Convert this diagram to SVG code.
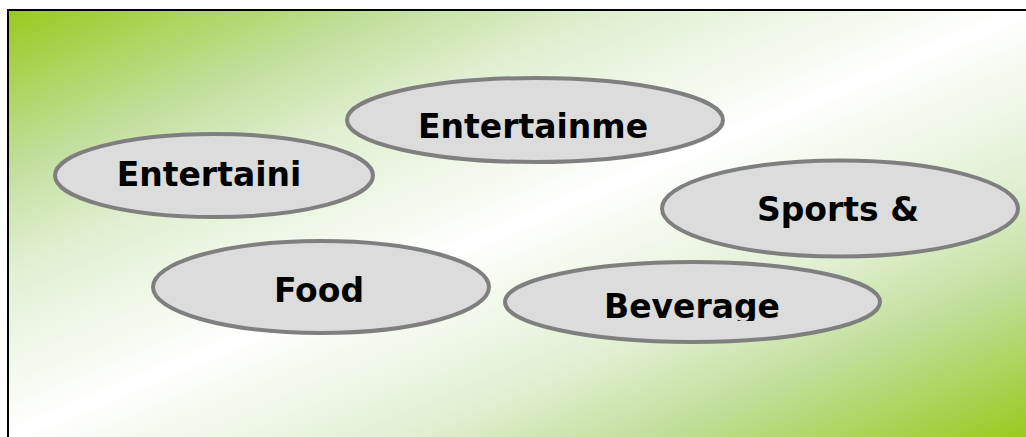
<svg xmlns="http://www.w3.org/2000/svg" width="1026" height="437" viewBox="0 0 1026 437">
  <defs>
    <!-- lime-to-white-to-lime diagonal background -->
    <linearGradient id="bgGrad" x1="0" y1="0" x2="1" y2="1">
      <stop offset="0" stop-color="#99CA1F"/>
      <stop offset="0.18" stop-color="#C0DE98"/>
      <stop offset="0.3" stop-color="#E0EFD0"/>
      <stop offset="0.5" stop-color="#FFFFFF"/>
      <stop offset="0.7" stop-color="#E0EFD0"/>
      <stop offset="0.82" stop-color="#C0DE98"/>
      <stop offset="1" stop-color="#99CA1F"/>
    </linearGradient>
    <clipPath id="beverageClip">
      <rect x="500" y="250" width="400" height="71"/>
    </clipPath>
  </defs>
  <style>
    .bubble { fill: #DCDCDC; stroke: #7F7F7F; stroke-width: 4; }
    .label { font-family: "DejaVu Sans", Verdana, sans-serif; font-weight: bold; font-size: 33px; fill: #000000; text-anchor: middle; }
  </style>

  <rect x="0" y="0" width="1026" height="437" fill="#FFFFFF"/>
  <!-- panel -->
  <rect x="8" y="11" width="1018" height="426" fill="url(#bgGrad)"/>
  <path d="M8,437 V10 H1026" fill="none" stroke="#000000" stroke-width="2"/>

  <g id="connectors"></g>

  <g id="node-entertaini">
    <ellipse class="bubble" cx="214" cy="175.5" rx="159" ry="41.5"/>
    <text class="label" x="209" y="186">Entertaini</text>
  </g>

  <g id="node-entertainme">
    <ellipse class="bubble" cx="535" cy="120" rx="188" ry="42"/>
    <text class="label" x="533" y="138">Entertainme</text>
  </g>

  <g id="node-sports">
    <ellipse class="bubble" cx="840" cy="208.5" rx="178" ry="48"/>
    <text class="label" x="838" y="221">Sports &amp;</text>
  </g>

  <g id="node-food">
    <ellipse class="bubble" cx="321" cy="287" rx="168" ry="46"/>
    <text class="label" x="319" y="302">Food</text>
  </g>

  <g id="node-beverage">
    <ellipse class="bubble" cx="692.5" cy="302" rx="187.5" ry="40"/>
    <text class="label" x="692" y="318" clip-path="url(#beverageClip)">Beverage</text>
  </g>
</svg>
